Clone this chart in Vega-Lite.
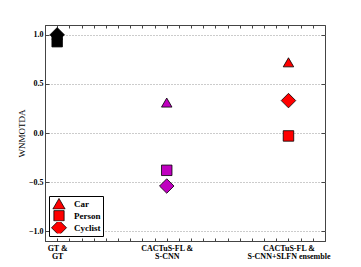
{
  "$schema": "https://vega.github.io/schema/vega-lite/v6.json",
  "width": 280,
  "height": 216,
  "autosize": "none",
  "padding": {"left": 45, "top": 25, "right": 36, "bottom": 26},
  "background": "white",
  "config": {
    "view": {"stroke": "#444", "strokeWidth": 1},
    "axis": {
      "labelFont": "Liberation Serif", "labelFontWeight": "bold", "labelFontSize": 8, "labelColor": "#000",
      "domainColor": "#444", "tickColor": "#444",
      "titleFont": "Liberation Serif", "titleFontWeight": "normal", "titleFontSize": 9, "titleColor": "#000"
    }
  },
  "data": {"values": [
    {"method": "GT", "x": 0.1, "class": "Person", "value": 0.93},
    {"method": "GT", "x": 0.1, "class": "Cyclist", "value": 1.0},
    {"method": "GT", "x": 0.1, "class": "Car", "value": 1.0},
    {"method": "CACTuS", "x": 1, "class": "Car", "value": 0.31},
    {"method": "CACTuS", "x": 1, "class": "Person", "value": -0.38},
    {"method": "CACTuS", "x": 1, "class": "Cyclist", "value": -0.54},
    {"method": "Ensemble", "x": 2, "class": "Car", "value": 0.72},
    {"method": "Ensemble", "x": 2, "class": "Person", "value": -0.03},
    {"method": "Ensemble", "x": 2, "class": "Cyclist", "value": 0.33}
  ]},
  "layer": [
    {
      "encoding": {
        "x": {"field": "x", "type": "quantitative",
          "scale": {"domain": [0, 2.3], "nice": false, "zero": false},
          "axis": {"orient": "bottom", "values": [0,0.1,0.2,0.3,0.4,0.5,0.6,0.7,0.8,0.9,1,1.1,1.2,1.3,1.4,1.5,1.6,1.7,1.8,1.9,2,2.1,2.2,2.3],
            "tickSize": -3, "grid": false, "title": null, "labelPadding": 6,
            "labelExpr": "abs(datum.value - 0.1) < 0.01 ? ['GT &', 'GT'] : abs(datum.value - 1) < 0.01 ? ['CACTuS-FL &', 'S-CNN'] : abs(datum.value - 2) < 0.01 ? ['CACTuS-FL &', 'S-CNN+SLFN ensemble'] : ''",
            "labelAlign": "center", "labelBaseline": "top", "labelOverlap": false, "labelFlush": false, "labelBound": false, "labelLineHeight": 8.5}},
        "y": {"field": "value", "type": "quantitative",
          "scale": {"domain": [-1.1, 1.1], "nice": false, "zero": false},
          "axis": {"orient": "left", "values": [-1, -0.5, 0, 0.5, 1], "format": ".1f", "tickSize": -4, "grid": true, "gridDash": [1, 2], "gridColor": "#999",
            "title": "WNMOTDA", "labelPadding": 6, "titlePadding": 2}},
        "color": {"field": "method", "type": "nominal",
          "scale": {"domain": ["GT", "CACTuS", "Ensemble"], "range": ["#000000", "#bf00bf", "#ff0000"]}, "legend": null},
        "shape": {"field": "class", "type": "nominal",
          "scale": {"domain": ["Car", "Person", "Cyclist"], "range": ["triangle-up", "square", "diamond"]},
          "legend": {"orient": "none", "legendX": 4, "legendY": 171, "title": null, "strokeColor": "#000", "fillColor": "#fff",
            "padding": 2, "labelFont": "Liberation Serif", "labelFontWeight": "bold", "labelFontSize": 9, "labelColor": "#000",
            "symbolSize": 100, "symbolOffset": 2, "symbolFillColor": "#ff0000", "symbolStrokeColor": "#000", "symbolStrokeWidth": 0.8, "symbolOpacity": 1,
            "rowPadding": 0, "labelOffset": 9, "cornerRadius": 0, "clipHeight": 11.5,
            "encode": {"symbols": {"update": {
              "size": {"signal": "datum.value === 'Cyclist' ? 225 : datum.value === 'Car' ? 150 : 105"},
              "fill": {"value": "#ff0000"}, "stroke": {"value": "#000"}, "opacity": {"value": 1}}}}}}
      },
      "layer": [
        {
          "transform": [{"filter": "datum.class === 'Person'"}],
          "mark": {"type": "point", "filled": true, "opacity": 1, "stroke": "#000", "strokeWidth": 0.8, "size": 110}
        },
        {
          "transform": [{"filter": "datum.class === 'Cyclist'"}],
          "mark": {"type": "point", "filled": true, "opacity": 1, "stroke": "#000", "strokeWidth": 0.8, "size": 210}
        },
        {
          "transform": [{"filter": "datum.class === 'Car'"}],
          "mark": {"type": "point", "filled": true, "opacity": 1, "stroke": "#000", "strokeWidth": 0.8, "size": 110}
        }
      ]
    },
    {
      "mark": {"type": "point", "opacity": 0},
      "encoding": {
        "x": {"field": "x", "type": "quantitative",
          "axis": {"orient": "top", "values": [0,0.1,0.2,0.3,0.4,0.5,0.6,0.7,0.8,0.9,1,1.1,1.2,1.3,1.4,1.5,1.6,1.7,1.8,1.9,2,2.1,2.2,2.3],
            "tickSize": -3, "labels": false, "grid": false, "title": null, "domain": false}},
        "y": {"field": "value", "type": "quantitative",
          "axis": {"orient": "right", "values": [-1, -0.5, 0, 0.5, 1], "tickSize": -4, "labels": false, "grid": false, "title": null, "domain": false}}
      }
    }
  ],
  "resolve": {"axis": {"x": "independent", "y": "independent"}}
}
